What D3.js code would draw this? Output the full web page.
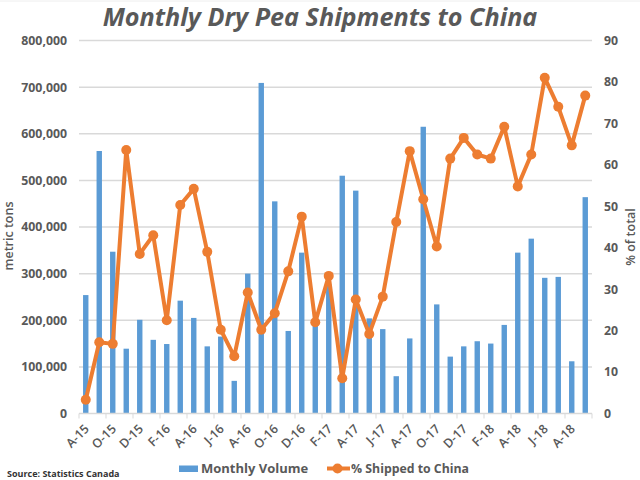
<!DOCTYPE html>
<html>
<head>
<meta charset="utf-8">
<script src="https://d3js.org/d3.v7.min.js"></script>
<style>
html, body { margin: 0; padding: 0; background: #fff; }
svg { display: block; }
text { font-family: "Open Sans", sans-serif; fill: #595959; }
</style>
</head>
<body>
<script>
//months, only every second one is labelled on the axis
var months = ["Aug-15","Sep-15","Oct-15","Nov-15","Dec-15","Jan-16","Feb-16","Mar-16","Apr-16","May-16","Jun-16","Jul-16","Aug-16","Sep-16","Oct-16","Nov-16","Dec-16","Jan-17","Feb-17","Mar-17","Apr-17","May-17","Jun-17","Jul-17","Aug-17","Sep-17","Oct-17","Nov-17","Dec-17","Jan-18","Feb-18","Mar-18","Apr-18","May-18","Jun-18","Jul-18","Aug-18","Sep-18"];

//monthly volume, metric tons
var volume = [254000,563000,347000,139000,201000,158000,149000,242000,205000,144000,165000,70000,300000,709000,455000,177000,345000,195000,277000,510000,478000,204000,181000,80000,161000,615000,234000,122000,144000,155000,150000,190000,345000,375000,291000,293000,112000,464000];

//% shipped to China
var share = [3.3,17.2,16.8,63.6,38.5,43,22.5,50.3,54.2,39,20.2,13.8,29.2,20.2,24.2,34.3,47.5,22,33.2,8.5,27.5,19.2,28.2,46.2,63.3,51.7,40.3,61.5,66.5,62.5,61.5,69.2,54.8,62.5,81,74,64.7,76.7];

var leftTicks = [0,100000,200000,300000,400000,500000,600000,700000,800000];
var rightTicks = [0,10,20,30,40,50,60,70,80,90];

var width = 640,
	height = 480;

var svg = d3.select("body")
	.append("svg")
	.attr("width", width)
	.attr("height", height);

//faint edge along the top of the picture
svg.append("line")
	.attr("x1", 0).attr("x2", width)
	.attr("y1", 1).attr("y2", 1)
	.attr("stroke", "#eeeeee")
	.attr("stroke-width", 1);

var x = d3.scaleBand()
	.domain(months)
	.range([79, 592])
	.paddingInner(0.6)
	.paddingOuter(0.3);

var yLeft = d3.scaleLinear().domain([0, 800000]).range([413.5, 40.5]);
var yRight = d3.scaleLinear().domain([0, 90]).range([413.5, 40.5]);

var xMid = function(d){ return x(d) + x.bandwidth() / 2; };

//"Aug-15" is written "A-15" on the axis
var shortLabel = function(d){ return d.charAt(0) + d.slice(3); };

//gridlines
svg.selectAll(".grid")
	.data(leftTicks.slice(1))
	.enter()
	.append("line")
	.attr("class", "grid")
	.attr("x1", 79)
	.attr("x2", 592)
	.attr("y1", function(d){ return yLeft(d); })
	.attr("y2", function(d){ return yLeft(d); })
	.attr("stroke", "#d9d9d9")
	.attr("stroke-width", 1.5);

//left axis labels
var leftAxis = svg.append("g")
	.attr("transform", "translate(79,0)")
	.call(d3.axisLeft(yLeft).tickValues(leftTicks).tickFormat(d3.format(",")).tickSize(0).tickPadding(12));
leftAxis.select(".domain").remove();
leftAxis.selectAll("text").style("font-size", "12.3px").style("font-weight", "700").style("font-family", '"Open Sans", sans-serif');

//right axis labels
var rightAxis = svg.append("g")
	.attr("transform", "translate(592,0)")
	.call(d3.axisRight(yRight).tickValues(rightTicks).tickSize(0).tickPadding(12));
rightAxis.select(".domain").remove();
rightAxis.selectAll("text").style("font-size", "12.3px").style("font-weight", "700").style("font-family", '"Open Sans", sans-serif');

//bars
svg.selectAll(".bar")
	.data(volume)
	.enter()
	.append("rect")
	.attr("class", "bar")
	.attr("x", function(d, i){ return x(months[i]); })
	.attr("width", x.bandwidth())
	.attr("y", function(d){ return yLeft(d); })
	.attr("height", function(d){ return yLeft(0) - yLeft(d); })
	.attr("fill", "#5b9bd5");

//x axis, tick marks fall between every second month
var xStep = x.step();
var labelled = months.filter(function(d, i){ return i % 2 == 0; });
var xAxis = svg.append("g")
	.attr("transform", "translate(0,413.5)");
xAxis.append("line")
	.attr("x1", 79).attr("x2", 592)
	.attr("stroke", "#d9d9d9").attr("stroke-width", 1.5);
xAxis.selectAll(".tick-mark")
	.data(labelled.concat(["end"]))
	.enter()
	.append("line")
	.attr("class", "tick-mark")
	.attr("x1", function(d, i){ return 79 + i * 2 * xStep; })
	.attr("x2", function(d, i){ return 79 + i * 2 * xStep; })
	.attr("y1", 0)
	.attr("y2", 5)
	.attr("stroke", "#d9d9d9")
	.attr("stroke-width", 1);
xAxis.selectAll(".xlabel")
	.data(labelled)
	.enter()
	.append("text")
	.attr("class", "xlabel")
	.attr("text-anchor", "end")
	.attr("transform", function(d){ return "translate(" + (xMid(d) - 2) + ",10) rotate(-45)"; })
	.attr("dy", "0.7em")
	.style("font-size", "12.5px")
	.style("font-weight", "600")
	.text(shortLabel);

//line
var line = d3.line()
	.x(function(d, i){ return xMid(months[i]); })
	.y(function(d){ return yRight(d); });

svg.append("path")
	.datum(share)
	.attr("d", line)
	.attr("fill", "none")
	.attr("stroke", "#ed7d31")
	.attr("stroke-width", 4)
	.attr("stroke-linejoin", "round");

svg.selectAll(".dot")
	.data(share)
	.enter()
	.append("circle")
	.attr("class", "dot")
	.attr("cx", function(d, i){ return xMid(months[i]); })
	.attr("cy", function(d){ return yRight(d); })
	.attr("r", 5)
	.attr("fill", "#ed7d31");

//title
svg.append("text")
	.attr("x", 320)
	.attr("y", 26)
	.attr("text-anchor", "middle")
	.style("font-size", "25.2px")
	.style("font-weight", "700")
	.style("font-style", "italic")
	.text("Monthly Dry Pea Shipments to China");

//axis titles
svg.append("text")
	.attr("transform", "translate(13,236) rotate(-90)")
	.attr("text-anchor", "middle")
	.style("font-size", "12.5px")
	.style("font-weight", "600")
	.text("metric tons");

svg.append("text")
	.attr("transform", "translate(635,237) rotate(-90)")
	.attr("text-anchor", "middle")
	.style("font-size", "12.5px")
	.style("font-weight", "600")
	.text("% of total");

//legend
svg.append("rect")
	.attr("x", 179).attr("y", 465.5)
	.attr("width", 19).attr("height", 6.5)
	.attr("fill", "#5b9bd5");
svg.append("text")
	.attr("x", 201).attr("y", 473)
	.style("font-size", "13px")
	.style("font-weight", "700")
	.text("Monthly Volume");
svg.append("line")
	.attr("x1", 327).attr("x2", 350)
	.attr("y1", 468.5).attr("y2", 468.5)
	.attr("stroke", "#ed7d31").attr("stroke-width", 4);
svg.append("circle")
	.attr("cx", 337.5).attr("cy", 468.5).attr("r", 5)
	.attr("fill", "#ed7d31");
svg.append("text")
	.attr("x", 351).attr("y", 473)
	.style("font-size", "12.3px")
	.style("font-weight", "700")
	.text("% Shipped to China");

//source
svg.append("text")
	.attr("x", 7).attr("y", 477)
	.style("font-size", "9px")
	.style("font-weight", "700")
	.style("fill", "#333")
	.text("Source: Statistics Canada");
</script>
</body>
</html>
